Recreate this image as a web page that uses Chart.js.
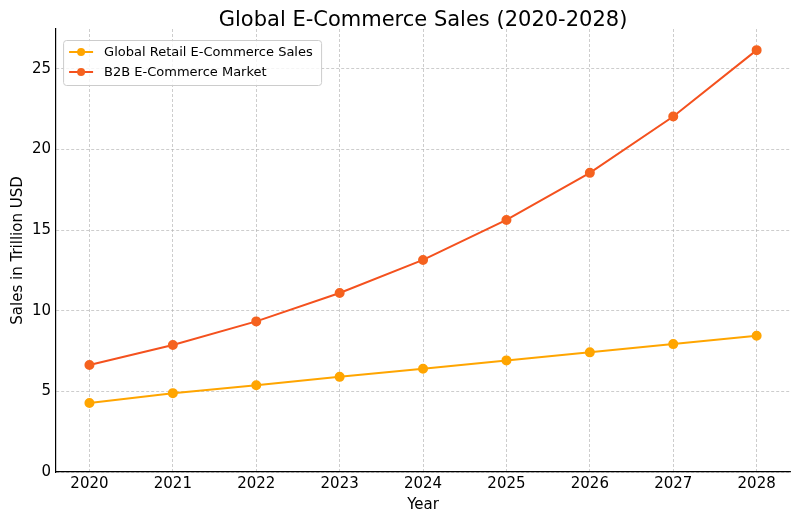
<!DOCTYPE html>
<html>
<head>
<meta charset="utf-8">
<title>Global E-Commerce Sales (2020-2028)</title>
<script src="https://cdn.jsdelivr.net/npm/chart.js@4/dist/chart.umd.min.js"></script>
<style>
  html, body { margin: 0; padding: 0; background: #fff; }
  #wrap { width: 800px; height: 522px; }
</style>
</head>
<body>
<div id="wrap"><canvas id="chart" width="800" height="522"></canvas></div>
<script>
// ── Data ────────────────────────────────────────────────────────
const YEARS  = [2020, 2021, 2022, 2023, 2024, 2025, 2026, 2027, 2028];
const RETAIL = [4.28, 4.89, 5.38, 5.90, 6.40, 6.92, 7.42, 7.93, 8.45];
const B2B    = [6.64, 7.88, 9.34, 11.10, 13.15, 15.63, 18.55, 22.04, 26.16];
const Y_TICKS = [0, 5, 10, 15, 20, 25];

const FONT = 'DejaVu Sans';

function pts(vals) {
  return YEARS.map(function (y, i) { return { x: y, y: vals[i] }; });
}

// ── In-plot legend, matplotlib style (line + marker) ────────────
const boxLegend = {
  id: 'boxLegend',
  afterDatasetsDraw: function (chart) {
    const ctx = chart.ctx;
    const a = chart.chartArea;
    const x0 = a.left + 7, y0 = a.top + 11, w = 258, h = 45;
    ctx.save();
    ctx.fillStyle = 'rgba(255,255,255,0.8)';
    ctx.strokeStyle = '#cccccc';
    ctx.lineWidth = 1;
    ctx.beginPath();
    ctx.roundRect(x0 + 0.5, y0 + 0.5, w, h, 3);
    ctx.fill();
    ctx.stroke();
    ctx.font = '13px "' + FONT + '"';
    ctx.textBaseline = 'middle';
    chart.data.datasets.forEach(function (ds, i) {
      const cy = y0 + 12 + i * 20;
      ctx.strokeStyle = ds.borderColor;
      ctx.lineWidth = 2;
      ctx.beginPath();
      ctx.moveTo(x0 + 6, cy);
      ctx.lineTo(x0 + 30, cy);
      ctx.stroke();
      ctx.fillStyle = ds.pointBackgroundColor;
      ctx.beginPath();
      ctx.arc(x0 + 18, cy, 4, 0, Math.PI * 2);
      ctx.fill();
      ctx.fillStyle = '#000';
      ctx.fillText(ds.label, x0 + 41, cy + 1);
    });
    ctx.restore();
  }
};

const gridCfg = {
  color: 'rgba(176,176,176,0.8)',
  lineWidth: 0.8,
  drawTicks: false
};

const borderCfg = { display: true, color: '#000', width: 1.2, dash: [3, 2] };

new Chart(document.getElementById('chart'), {
  type: 'line',
  data: {
    datasets: [
      {
        label: 'Global Retail E-Commerce Sales',
        data: pts(RETAIL),
        borderColor: '#FFA500',
        backgroundColor: '#FFA500',
        pointBackgroundColor: '#FFA500',
        pointBorderColor: '#FFA500',
        borderWidth: 2,
        pointRadius: 4,
        tension: 0
      },
      {
        label: 'B2B E-Commerce Market',
        data: pts(B2B),
        borderColor: '#F4511E',
        backgroundColor: '#F4511E',
        pointBackgroundColor: '#F5621F',
        pointBorderColor: '#F5621F',
        borderWidth: 2,
        pointRadius: 4,
        tension: 0
      }
    ]
  },
  options: {
    responsive: false,
    animation: false,
    devicePixelRatio: 1,
    layout: { padding: { left: 5, right: 10, top: 0, bottom: 8 } },
    plugins: {
      legend: { display: false },
      tooltip: { enabled: false },
      title: {
        display: true,
        fullSize: false,
        text: 'Global E-Commerce Sales (2020-2028)',
        color: '#000',
        font: { family: FONT, size: 21, weight: 'normal', lineHeight: 1 },
        padding: { top: 10, bottom: -2 }
      }
    },
    scales: {
      x: {
        type: 'linear',
        min: 2019.6,
        max: 2028.4,
        afterBuildTicks: function (s) { s.ticks = YEARS.map(function (v) { return { value: v }; }); },
        ticks: {
          color: '#000',
          font: { family: FONT, size: 15 },
          padding: 3,
          maxRotation: 0,
          callback: function (v) { return String(v); }
        },
        grid: gridCfg,
        border: borderCfg,
        title: {
          display: true,
          text: 'Year',
          color: '#000',
          font: { family: FONT, size: 15 },
          padding: { top: 0, bottom: 0 }
        }
      },
      y: {
        type: 'linear',
        min: 0,
        max: 27.47,
        afterBuildTicks: function (s) { s.ticks = Y_TICKS.map(function (v) { return { value: v }; }); },
        ticks: {
          color: '#000',
          font: { family: FONT, size: 15 },
          padding: 5,
          callback: function (v) { return String(v); }
        },
        grid: gridCfg,
        border: borderCfg,
        title: {
          display: true,
          text: 'Sales in Trillion USD',
          color: '#000',
          font: { family: FONT, size: 15 },
          padding: { top: 4, bottom: 0 }
        }
      }
    }
  },
  plugins: [boxLegend]
});
</script>
</body>
</html>
